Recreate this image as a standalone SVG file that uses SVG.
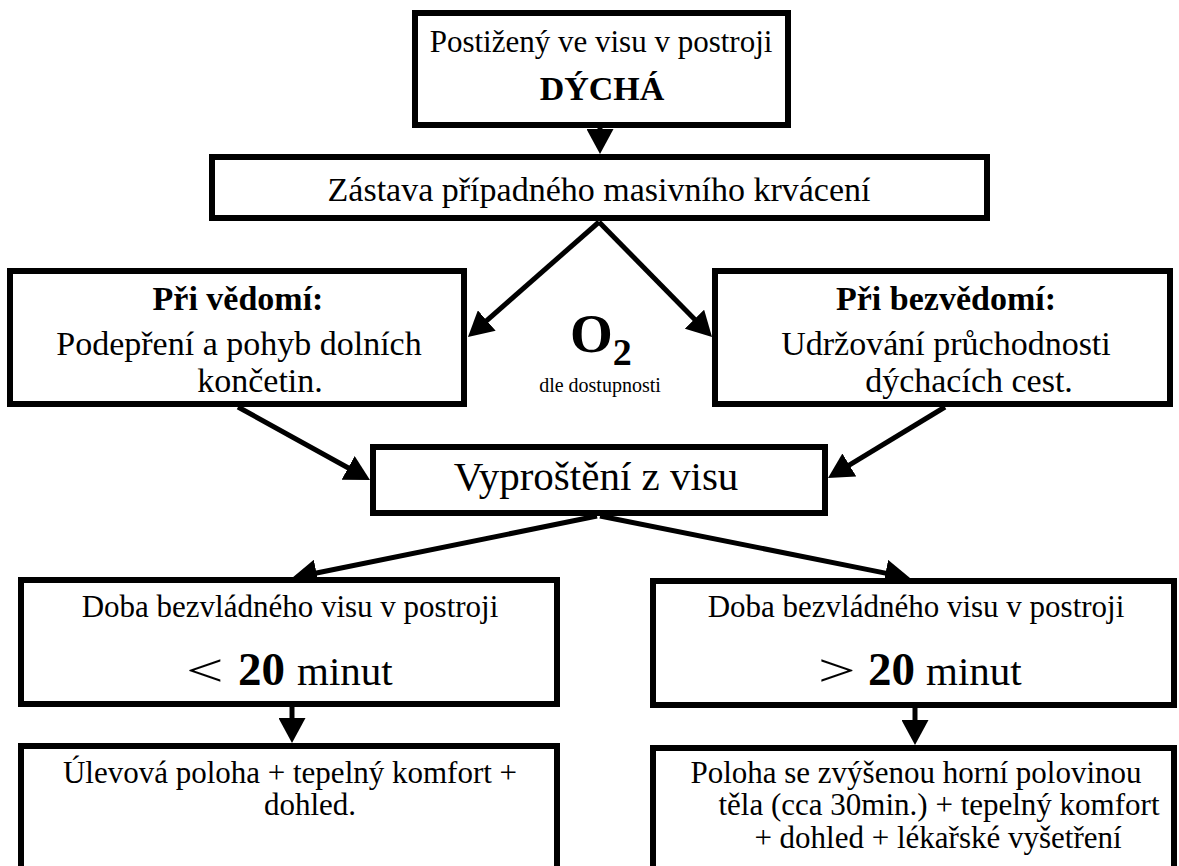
<svg xmlns="http://www.w3.org/2000/svg" width="1179" height="866" viewBox="0 0 1179 866">
<style>
.box{fill:#fff;stroke:#000;stroke-width:6}
.t{font-family:"Liberation Serif","Times New Roman",serif;fill:#000}
.c{text-anchor:middle}
.b{font-weight:bold}
.con line{stroke:#000;stroke-width:5}
</style>
<defs>
<marker id="ah" viewBox="0 0 25 27" refX="5" refY="13.5" markerWidth="25" markerHeight="27" markerUnits="userSpaceOnUse" orient="auto">
<path d="M0,0 L25,13.5 L0,27 z" fill="#000"/>
</marker>
</defs>
<rect width="1179" height="866" fill="#fff"/>
<g id="connectors" class="con">
<line x1="600" y1="126" x2="600" y2="134" marker-end="url(#ah)"/>
<line x1="599" y1="222" x2="483" y2="323.8" marker-end="url(#ah)"/>
<line x1="599" y1="222" x2="698" y2="322.7" marker-end="url(#ah)"/>
<line x1="238" y1="407" x2="352.5" y2="470.3" marker-end="url(#ah)"/>
<line x1="945" y1="407" x2="845.1" y2="467.6" marker-end="url(#ah)"/>
<line x1="597" y1="516" x2="311.6" y2="574" marker-end="url(#ah)"/>
<line x1="600" y1="516" x2="890.4" y2="574.1" marker-end="url(#ah)"/>
<line x1="292" y1="706" x2="292" y2="723" marker-end="url(#ah)"/>
<line x1="915" y1="704" x2="915" y2="725" marker-end="url(#ah)"/>
</g>
<g id="n-top">
<rect class="box" x="415" y="13" width="373" height="112"/>
<text class="t c" x="601" y="52" font-size="31">Postižený ve visu v postroji</text>
<text class="t c b" x="602" y="100" font-size="34">DÝCHÁ</text>
</g>
<g id="n-zastava">
<rect class="box" x="212" y="157" width="775" height="61"/>
<text class="t c" x="599" y="201" font-size="34">Zástava případného masivního krvácení</text>
</g>
<g id="n-vedomi">
<rect class="box" x="10" y="271" width="454" height="133"/>
<text class="t c b" x="238" y="310" font-size="34">Při vědomí:</text>
<text class="t c" x="239" y="355" font-size="34">Podepření a pohyb dolních</text>
<text class="t c" x="260" y="392" font-size="34">končetin.</text>
</g>
<g id="n-o2">
<text class="t b" x="570" y="352" font-size="55">O<tspan font-size="38" dy="13">2</tspan></text>
<text class="t c" x="600" y="392" font-size="20">dle dostupnosti</text>
</g>
<g id="n-bezvedomi">
<rect class="box" x="715" y="271" width="455" height="133"/>
<text class="t c b" x="946" y="310" font-size="34">Při bezvědomí:</text>
<text class="t c" x="946" y="355" font-size="34">Udržování průchodnosti</text>
<text class="t c" x="969" y="392" font-size="34">dýchacích cest.</text>
</g>
<g id="n-vyprosteni">
<rect class="box" x="373" y="447" width="452" height="66"/>
<text class="t c" x="596" y="490" font-size="41">Vyproštění z visu</text>
</g>
<g id="n-less20">
<rect class="box" x="21" y="580" width="536" height="124"/>
<text class="t c" x="290" y="617" font-size="31">Doba bezvládného visu v postroji</text>
<text class="t" font-size="46" transform="translate(186,686) scale(1.45,1)">&lt;</text>
<text class="t b" x="238" y="685" font-size="47">20</text>
<text class="t" x="297" y="685" font-size="41">minut</text>
</g>
<g id="n-more20">
<rect class="box" x="653" y="581" width="521" height="124"/>
<text class="t c" x="916" y="617" font-size="31">Doba bezvládného visu v postroji</text>
<text class="t" font-size="46" transform="translate(818,686) scale(1.45,1)">&gt;</text>
<text class="t b" x="868" y="685" font-size="47">20</text>
<text class="t" x="926" y="685" font-size="41">minut</text>
</g>
<g id="n-ulevova">
<rect class="box" x="21" y="746" width="536" height="140"/>
<text class="t c" x="290" y="783" font-size="31">Úlevová poloha + tepelný komfort +</text>
<text class="t c" x="310" y="815" font-size="31">dohled.</text>
</g>
<g id="n-poloha">
<rect class="box" x="653" y="748" width="521" height="140"/>
<text class="t c" x="916" y="783" font-size="31">Poloha se zvýšenou horní polovinou</text>
<text class="t c" x="939" y="815" font-size="31">těla (cca 30min.) + tepelný komfort</text>
<text class="t c" x="938" y="848" font-size="31">+ dohled + lékařské vyšetření</text>
</g>
</svg>
